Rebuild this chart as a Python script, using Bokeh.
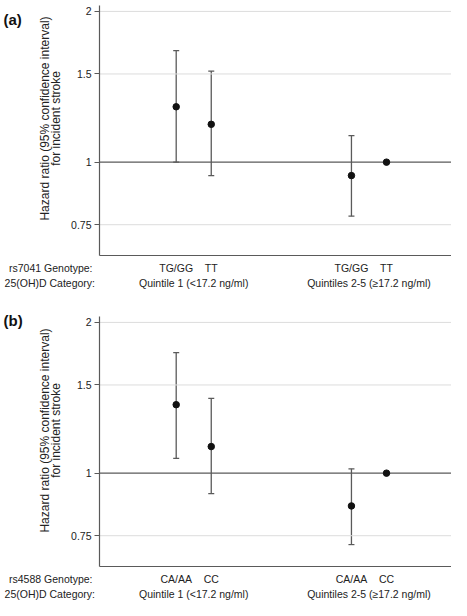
from bokeh.plotting import figure
from bokeh.layouts import column
from bokeh.models import (ColumnDataSource, Range1d, FixedTicker, CustomJSTickFormatter,
                          Whisker, TeeHead, LinearAxis)
from bokeh.core.properties import value
from bokeh.embed import file_html
from bokeh.resources import INLINE
import math

# ---------------- data ----------------
positions = [1, 2, 6, 7]
category_positions = [1.5, 6.5]
category_labels = ["Quintile 1 (<17.2 ng/ml)", "Quintiles 2-5 (\u226517.2 ng/ml)"]
y_ticks = [0.75, 1, 1.5, 2]
grid_ticks = [0.75, 1.5, 2]
ref_line = [1]

a_genotypes = ["TG/GG", "TT", "TG/GG", "TT"]
a_hr = [1.29, 1.19, 0.94, 1.00]
a_ci_pos = [1, 2, 6]
a_lower = [1.00, 0.94, 0.78]
a_upper = [1.67, 1.52, 1.13]

b_genotypes = ["CA/AA", "CC", "CA/AA", "CC"]
b_hr = [1.37, 1.13, 0.86, 1.00]
b_ci_pos = [1, 2, 6]
b_lower = [1.07, 0.91, 0.72]
b_upper = [1.74, 1.41, 1.02]

# ---------------- styling / geometry ----------------
FONT = "Liberation Sans"
AXIS_COL = "#5a5a5a"
TEXT_COL = "#222222"
W = 451
Y_LO, Y_HI = 0.651, 2.055
X1_PX, UNIT, AXIS_PX = 175.7, 35.05, 99.0


def xpx(px):
    return 1 + (px - X1_PX) / UNIT


def make_panel(tag, snp, genos, hr, ci_pos, lo, hi, H, top_px, bot_px, tag_px, title_px):
    k = (bot_px - top_px) / math.log(Y_HI / Y_LO)
    yt = math.exp(math.log(Y_HI) + top_px / k)
    yb = math.exp(math.log(Y_LO) - (H - bot_px) / k)

    def ypx(px):
        return math.exp(math.log(Y_HI) - (px - top_px) / k)

    x_axis = xpx(AXIS_PX)
    x_end = xpx(W)

    p = figure(width=W, height=H, output_backend="svg", toolbar_location=None,
               y_axis_type="log", x_range=Range1d(xpx(0), x_end),
               y_range=Range1d(yb, yt),
               min_border_left=0, min_border_right=0,
               min_border_top=0, min_border_bottom=0)
    p.outline_line_color = None
    p.background_fill_color = "white"
    p.border_fill_color = "white"
    p.xgrid.visible = False
    p.ygrid.visible = False

    # y axis at fixed location
    yax = p.yaxis[0]
    yax.fixed_location = x_axis
    yax.bounds = (Y_LO, Y_HI)
    yax.ticker = FixedTicker(ticks=y_ticks, minor_ticks=[])
    yax.formatter = CustomJSTickFormatter(code="return tick.toString();")
    yax.axis_line_color = AXIS_COL
    yax.axis_line_width = 1.2
    yax.major_tick_line_color = AXIS_COL
    yax.major_tick_out = 5
    yax.major_tick_in = 0
    yax.minor_tick_line_color = None
    yax.major_label_standoff = 3
    yax.major_label_text_font = FONT
    yax.major_label_text_font_size = "10.5px"
    yax.major_label_text_color = TEXT_COL

    # x axis with genotype labels
    xax = p.xaxis[0]
    xax.fixed_location = Y_LO
    xax.bounds = (x_axis, x_end)
    xax.ticker = FixedTicker(ticks=positions, minor_ticks=[])
    xax.major_label_overrides = dict(zip(positions, genos))
    xax.axis_line_color = AXIS_COL
    xax.axis_line_width = 1.2
    xax.major_tick_line_color = None
    xax.major_tick_out = 0
    xax.major_tick_in = 0
    xax.minor_tick_line_color = None
    xax.major_label_standoff = 6
    xax.major_label_text_font = FONT
    xax.major_label_text_font_size = "10.5px"
    xax.major_label_text_color = TEXT_COL

    # category axis
    cax = LinearAxis(fixed_location=Y_LO,
                     ticker=FixedTicker(ticks=category_positions, minor_ticks=[]),
                     major_label_overrides=dict(zip(category_positions, category_labels)),
                     axis_line_color=None, major_tick_line_color=None,
                     minor_tick_line_color=None, major_tick_out=0, major_tick_in=0,
                     major_label_standoff=21,
                     major_label_text_font=FONT, major_label_text_font_size="10.5px",
                     major_label_text_color=TEXT_COL)
    p.add_layout(cax, "below")

    # grid lines (start at the y axis) and reference line at HR = 1
    p.segment(x0=[x_axis] * len(grid_ticks), x1=[x_end] * len(grid_ticks),
              y0=grid_ticks, y1=grid_ticks, line_color="#dcdcdc", line_width=1)
    p.segment(x0=[x_axis], x1=[x_end], y0=ref_line, y1=ref_line,
              line_color=AXIS_COL, line_width=1.2)

    # confidence intervals
    ci_src = ColumnDataSource(dict(x=ci_pos, lower=lo, upper=hi))
    w = Whisker(base="x", lower="lower", upper="upper", source=ci_src,
                line_color=AXIS_COL, line_width=1.3,
                upper_head=TeeHead(size=6, line_color=AXIS_COL, line_width=1.2),
                lower_head=TeeHead(size=6, line_color=AXIS_COL, line_width=1.2))
    p.add_layout(w)

    pt_src = ColumnDataSource(dict(x=positions, y=hr))
    p.scatter("x", "y", source=pt_src, size=6.5, color="#111111")

    # row labels on the left
    p.text(x=[xpx(92)], y=[ypx(bot_px + 12)], text=[snp + " Genotype:"],
           text_align="right", text_baseline="middle",
           text_font=value(FONT), text_font_size=value("10.5px"), text_color=TEXT_COL)
    p.text(x=[xpx(94.5)], y=[ypx(bot_px + 27.5)], text=["25(OH)D Category:"],
           text_align="right", text_baseline="middle",
           text_font=value(FONT), text_font_size=value("10.5px"), text_color=TEXT_COL)

    # y axis title (two lines)
    p.text(x=[xpx(44), xpx(55)], y=[ypx(title_px)] * 2,
           text=["Hazard ratio (95% confidence interval)", "for incident stroke"],
           angle=math.pi / 2, text_align="center", text_baseline="middle",
           text_font=value(FONT), text_font_size=value("12px"), text_color=TEXT_COL)

    # panel tag
    p.text(x=[xpx(3)], y=[ypx(tag_px)], text=[tag], text_align="left",
           text_baseline="middle", text_font=value(FONT), text_font_size=value("15px"),
           text_font_style="bold", text_color="#111111")
    return p


p1 = make_panel("(a)", "rs7041", a_genotypes, a_hr, a_ci_pos, a_lower, a_upper,
                H=300, top_px=5, bot_px=255, tag_px=18.5, title_px=118)
p2 = make_panel("(b)", "rs4588", b_genotypes, b_hr, b_ci_pos, b_lower, b_upper,
                H=300, top_px=16, bot_px=266, tag_px=19.5, title_px=130)

layout = column(p1, p2, spacing=0)
open("out.html", "w").write(file_html(layout, INLINE))
